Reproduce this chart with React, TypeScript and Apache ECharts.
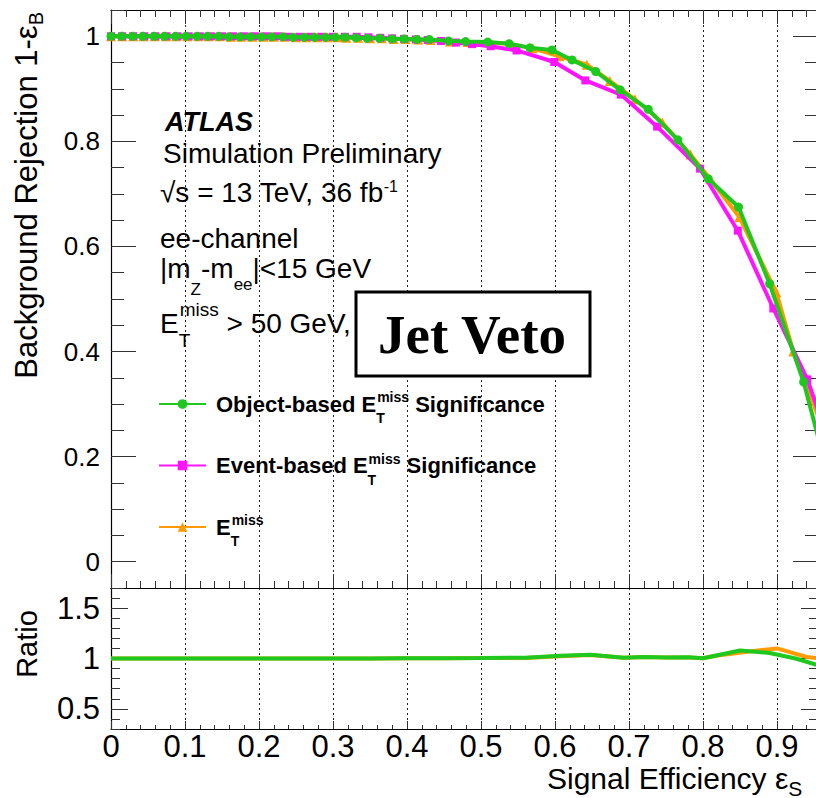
import React, { useEffect, useRef } from 'react';
import * as echarts from 'echarts';

const FONT = "'Liberation Sans', Arial, Helvetica, sans-serif";
const NARROW = "'Liberation Sans Narrow', 'Liberation Sans', Arial, sans-serif";
const SERIF = "'Liberation Serif', 'Times New Roman', serif";

const GREEN = '#1ec81e';
const MAGENTA = '#ff14ff';
const ORANGE = '#ff9a00';

// ---------- data ----------
const objectBasedCurve: [number, number][] = [
  [0.000, 1.000], [0.014, 1.000], [0.029, 1.000], [0.043, 1.000], [0.058, 1.000], [0.072, 1.000],
  [0.087, 1.000], [0.101, 1.000], [0.116, 1.000], [0.130, 1.000], [0.145, 1.000], [0.159, 0.999],
  [0.174, 0.999], [0.188, 0.999], [0.203, 0.999], [0.217, 0.999], [0.232, 0.999], [0.246, 0.998],
  [0.261, 0.998], [0.275, 0.998], [0.290, 0.998], [0.303, 0.998], [0.316, 0.998], [0.331, 0.997],
  [0.346, 0.996], [0.363, 0.996], [0.380, 0.995], [0.396, 0.995], [0.413, 0.994], [0.430, 0.994],
  [0.456, 0.991], [0.479, 0.990], [0.509, 0.989], [0.538, 0.986], [0.566, 0.978], [0.596, 0.974],
  [0.623, 0.955], [0.655, 0.933], [0.688, 0.898], [0.726, 0.861], [0.766, 0.803], [0.807, 0.729],
  [0.848, 0.675], [0.890, 0.529], [0.936, 0.342], [0.968, 0.170],
];

const eventBasedCurve: [number, number][] = [
  [0.000, 1.000], [0.015, 1.000], [0.030, 1.000], [0.045, 1.000], [0.060, 1.000], [0.075, 1.000],
  [0.090, 1.000], [0.105, 1.000], [0.120, 1.000], [0.135, 1.000], [0.150, 1.000], [0.165, 1.000],
  [0.180, 1.000], [0.195, 1.000], [0.210, 1.000], [0.225, 1.000], [0.240, 0.999], [0.255, 0.999],
  [0.270, 0.999], [0.285, 0.999], [0.300, 0.999], [0.316, 0.999], [0.332, 0.999], [0.348, 0.998],
  [0.364, 0.997], [0.380, 0.996], [0.396, 0.995], [0.412, 0.994], [0.428, 0.993], [0.446, 0.991],
  [0.466, 0.988], [0.488, 0.985], [0.513, 0.981], [0.548, 0.973], [0.599, 0.951], [0.641, 0.916],
  [0.689, 0.889], [0.738, 0.828], [0.796, 0.748], [0.847, 0.630], [0.895, 0.482], [0.941, 0.347],
  [0.975, 0.210],
];

const etMissCurve: [number, number][] = [
  [0.000, 1.000], [0.015, 1.000], [0.030, 1.000], [0.044, 1.000], [0.059, 1.000], [0.074, 1.000],
  [0.088, 1.000], [0.103, 1.000], [0.118, 1.000], [0.132, 1.000], [0.147, 1.000], [0.162, 0.999],
  [0.176, 0.999], [0.191, 0.999], [0.206, 0.999], [0.220, 0.999], [0.235, 0.999], [0.250, 0.998],
  [0.264, 0.998], [0.279, 0.998], [0.293, 0.998], [0.306, 0.998], [0.318, 0.997], [0.334, 0.997],
  [0.350, 0.996], [0.366, 0.996], [0.382, 0.995], [0.398, 0.995], [0.415, 0.994], [0.432, 0.993],
  [0.458, 0.990], [0.482, 0.989], [0.511, 0.988], [0.540, 0.985], [0.570, 0.977], [0.606, 0.962],
  [0.643, 0.946], [0.674, 0.915], [0.708, 0.880], [0.745, 0.836], [0.783, 0.775], [0.810, 0.728],
  [0.849, 0.656], [0.899, 0.513], [0.922, 0.400], [0.945, 0.318], [0.975, 0.200],
];

const ratioObjectBased: [number, number][] = [
  [0.00, 1.000], [0.05, 1.000], [0.10, 1.000], [0.15, 1.000], [0.20, 1.000], [0.25, 1.000],
  [0.30, 1.000], [0.35, 1.000], [0.40, 1.002], [0.45, 1.003], [0.50, 1.005], [0.56, 1.008],
  [0.607, 1.027], [0.648, 1.037], [0.693, 1.008], [0.72, 1.016], [0.75, 1.010], [0.78, 1.012],
  [0.80, 1.003], [0.85, 1.080], [0.89, 1.055], [0.925, 1.000], [0.955, 0.935], [0.98, 0.900],
];

const ratioEtMiss: [number, number][] = [
  [0.00, 1.000], [0.05, 1.000], [0.10, 1.000], [0.15, 1.000], [0.20, 1.000], [0.25, 1.000],
  [0.30, 1.000], [0.35, 1.000], [0.40, 1.002], [0.45, 1.003], [0.50, 1.005], [0.56, 1.006],
  [0.607, 1.022], [0.648, 1.034], [0.693, 1.008], [0.72, 1.014], [0.75, 1.010], [0.78, 1.010],
  [0.80, 1.002], [0.82, 1.030], [0.86, 1.068], [0.90, 1.100], [0.94, 1.015], [0.97, 0.990],
];

const seriesNames = ['Object-based', 'Event-based', 'ETmiss'];
const legendLabels: Record<string, string> = {
  'Object-based': 'Object-based E{sub|T}{sup|miss} Significance',
  'Event-based': 'Event-based E{sub|T}{sup|miss} Significance',
  ETmiss: 'E{sub|T}{sup|miss}',
};

const xTickLabels = ['0', '0.1', '0.2', '0.3', '0.4', '0.5', '0.6', '0.7', '0.8', '0.9'];
const mainYTickLabels = ['0', '0.2', '0.4', '0.6', '0.8', '1'];
const ratioYTickLabels = ['0.5', '1', '1.5'];

// ---------- layout ----------
const LEFT = 111;
const MAIN_TOP = 10;
const MAIN_H = 578; // y from -0.05 to 1.05
const RATIO_TOP = 588;
const RATIO_H = 141; // y from 0.3 to 1.7
const DATA_W = 740; // x from 0 to 1 (right part falls outside the page)
const FRAME_W = 707; // frame right edge

const TICK = '#333';
const dotted = { show: true, lineStyle: { color: '#222', width: 1, type: [2, 3] as any } };

function tickAxis(gridIndex: number, position: string, min: number, max: number, interval: number, len: number, extra: any = {}) {
  return {
    type: 'value', gridIndex, position, min, max, interval,
    axisLine: { show: false, onZero: false },
    axisTick: { show: true, inside: true, length: len, lineStyle: { color: TICK, width: 1 } },
    axisLabel: { show: false },
    splitLine: { show: false },
    ...extra,
  };
}
function hiddenAxis(gridIndex: number, min = 0, max = 1) {
  return { type: 'value', gridIndex, min, max, show: false, splitLine: { show: false } };
}
const frameLine = { show: true, onZero: false, lineStyle: { color: '#000', width: 1.2 } };

function gridBox(top: number, width: number, height: number) {
  return { left: LEFT, top, width, height, outerBoundsMode: 'none', containLabel: false };
}

function buildOption(): any {
  const grid = [
    gridBox(MAIN_TOP, DATA_W, MAIN_H),
    gridBox(MAIN_TOP, FRAME_W, MAIN_H),
    gridBox(MAIN_TOP + (0.05 / 1.1) * MAIN_H, FRAME_W, MAIN_H / 1.1),
    gridBox(RATIO_TOP, DATA_W, RATIO_H),
    gridBox(RATIO_TOP, FRAME_W, RATIO_H),
    gridBox(RATIO_TOP + (0.2 / 1.4) * RATIO_H, FRAME_W, RATIO_H / 1.4),
  ];

  const xAxis = [
    tickAxis(0, 'bottom', 0, 1, 0.02, 7, { axisLine: frameLine }),
    tickAxis(0, 'bottom', 0, 1, 0.1, 14, { splitLine: dotted }),
    tickAxis(0, 'top', 0, 1, 0.02, 7, { axisLine: frameLine }),
    tickAxis(0, 'top', 0, 1, 0.1, 14),
    hiddenAxis(1),
    hiddenAxis(2),
    tickAxis(3, 'bottom', 0, 1, 0.02, 4, { axisLine: frameLine }),
    tickAxis(3, 'bottom', 0, 1, 0.1, 8, {
      splitLine: dotted,
      axisLabel: {
        show: true, margin: 4, fontFamily: NARROW, fontSize: 31, lineHeight: 26, color: '#000',
        formatter: (v: number) => xTickLabels[Math.round(v * 10)] ?? '',
      },
    }),
    tickAxis(3, 'top', 0, 1, 0.1, 0, { axisLine: frameLine, axisTick: { show: false } }),
    hiddenAxis(4),
    hiddenAxis(5),
  ];

  const yAxis = [
    tickAxis(0, 'left', -0.05, 1.05, 0.05, 0, { axisLine: frameLine, axisTick: { show: false } }),
    tickAxis(1, 'left', -0.05, 1.05, 0.05, 13),
    tickAxis(1, 'right', -0.05, 1.05, 0.05, 13),
    tickAxis(2, 'left', 0, 1, 0.2, 25, {
      axisLabel: {
        show: true, margin: 11, fontFamily: FONT, fontSize: 26, color: '#000',
        formatter: (v: number) => mainYTickLabels[Math.round(v * 5)] ?? '',
      },
    }),
    tickAxis(2, 'right', 0, 1, 0.2, 25),
    tickAxis(3, 'left', 0.3, 1.7, 0.1, 0, { axisLine: frameLine, axisTick: { show: false } }),
    tickAxis(4, 'left', 0.3, 1.7, 0.1, 9),
    tickAxis(4, 'right', 0.3, 1.7, 0.1, 9),
    tickAxis(5, 'left', 0.5, 1.5, 0.5, 17, {
      axisLabel: {
        show: true, margin: 11, fontFamily: NARROW, fontSize: 31, color: '#000',
        formatter: (v: number) => ratioYTickLabels[Math.round(v * 2) - 1] ?? '',
      },
    }),
    tickAxis(5, 'right', 0.5, 1.5, 0.5, 17),
  ];

  const mainLine = (name: string, data: [number, number][], color: string, symbol: string, size: number, z: number) => ({
    type: 'line', name, xAxisIndex: 0, yAxisIndex: 0, data, symbol, symbolSize: size,
    showSymbol: true, clip: true, z,
    lineStyle: { width: 4, color }, itemStyle: { color }, emphasis: { disabled: true },
  });
  const ratioLine = (name: string, data: [number, number][], color: string, z: number) => ({
    type: 'line', name, xAxisIndex: 6, yAxisIndex: 5, data, symbol: 'none', showSymbol: false,
    clip: true, z, lineStyle: { width: 4, color }, itemStyle: { color }, emphasis: { disabled: true },
  });

  const series = [
    mainLine(seriesNames[2], etMissCurve, ORANGE, 'triangle', 10, 3),
    mainLine(seriesNames[1], eventBasedCurve, MAGENTA, 'rect', 8, 4),
    mainLine(seriesNames[0], objectBasedCurve, GREEN, 'circle', 9, 5),
    ratioLine('ratio ETmiss', ratioEtMiss, ORANGE, 3),
    ratioLine('ratio Object-based', ratioObjectBased, GREEN, 4),
  ];

  // rich-text offsets: base line height 50, token "height" sets the offset from the centre
  const annFont = { fontFamily: FONT, fontSize: 28, fill: '#000' };
  const annRich = {
    sup: { fontFamily: FONT, fontSize: 19, height: 22, verticalAlign: 'top' },
    sub: { fontFamily: FONT, fontSize: 19, height: 16, verticalAlign: 'bottom', width: 1 },
    supfb: { fontFamily: FONT, fontSize: 16, height: 38, verticalAlign: 'top' },
    subz: { fontFamily: FONT, fontSize: 17, height: 8, verticalAlign: 'bottom' },
    subee: { fontFamily: FONT, fontSize: 17, height: 18, verticalAlign: 'bottom' },
  };
  const annText = (x: number, baseline: number, text: string, extra: any = {}) => ({
    type: 'text', x, y: baseline - 0.35 * 28, z: 50,
    style: { ...annFont, text, rich: annRich, lineHeight: 50, align: 'left', verticalAlign: 'middle', ...extra },
  });

  const graphic = [
    {
      type: 'text', x: 165, y: 131 - 0.35 * 27, z: 50,
      style: { text: 'ATLAS', fontFamily: FONT, fontSize: 27, fontWeight: 'bold', fontStyle: 'italic', fill: '#000', align: 'left', verticalAlign: 'middle' },
    },
    annText(163, 163, 'Simulation Preliminary'),
    annText(160, 202, '√s = 13 TeV, 36 fb{supfb|-1}'),
    annText(160, 248, 'ee-channel'),
    annText(160, 278, '|m{subz|Z}-m{subee|ee}|<15 GeV'),
    annText(160, 333, 'E{sub|T}{sup|miss} > 50 GeV,'),
    {
      type: 'rect', z: 60,
      shape: { x: 356, y: 292, width: 234, height: 84 },
      style: { fill: '#fff', stroke: '#000', lineWidth: 3 },
    },
    {
      type: 'text', x: 472, y: 334, z: 61,
      style: { text: 'Jet Veto', fontFamily: SERIF, fontSize: 55, fontWeight: 'bold', fill: '#000', align: 'center', verticalAlign: 'middle' },
    },
    {
      type: 'text', x: 26, y: 12, rotation: Math.PI / 2, z: 50,
      style: {
        text: 'Background Rejection 1-ε{sub|B}', fontFamily: FONT, fontSize: 31, fill: '#000',
        lineHeight: 50, align: 'right', verticalAlign: 'middle',
        rich: { sub: { fontFamily: FONT, fontSize: 20, height: 30, verticalAlign: 'bottom' } },
      },
    },
    {
      type: 'text', x: 27, y: 644, rotation: Math.PI / 2, z: 50,
      style: { text: 'Ratio', fontFamily: FONT, fontSize: 29, fill: '#000', align: 'center', verticalAlign: 'middle' },
    },
    {
      type: 'text', x: 547, y: 778, z: 50,
      style: {
        text: 'Signal Efficiency ε{sub|S}', fontFamily: FONT, fontSize: 30, fill: '#000',
        lineHeight: 26, align: 'left', verticalAlign: 'middle',
        rich: { sub: { fontFamily: FONT, fontSize: 21, height: 6, verticalAlign: 'bottom' } },
      },
    },
  ];

  return {
    animation: false,
    backgroundColor: '#fff',
    grid,
    xAxis,
    yAxis,
    series,
    legend: {
      data: seriesNames,
      orient: 'vertical',
      left: 158,
      top: 379,
      padding: 0,
      itemWidth: 47,
      itemHeight: 12,
      itemGap: 11.5,
      selectedMode: false,
      formatter: (name: string) => legendLabels[name] ?? name,
      textStyle: {
        fontFamily: FONT, fontSize: 22, fontWeight: 'bold', color: '#000', lineHeight: 50,
        padding: [0, 0, 0, 5],
        rich: {
          sup: { fontFamily: FONT, fontSize: 14, fontWeight: 'bold', color: '#000', height: 36, verticalAlign: 'top' },
          sub: { fontFamily: FONT, fontSize: 14, fontWeight: 'bold', color: '#000', height: 22, verticalAlign: 'bottom', width: 1 },
        },
      },
    },
    graphic,
  };
}

export default function App() {
  const ref = useRef<HTMLDivElement>(null);
  useEffect(() => {
    if (!ref.current) return;
    const chart = echarts.init(ref.current, null, { renderer: 'svg' });
    chart.setOption(buildOption());
    return () => chart.dispose();
  }, []);
  return (
    <div
      ref={ref}
      style={{ position: 'absolute', left: 0, top: 0, width: 816, height: 798, background: '#fff', overflow: 'hidden' }}
    />
  );
}
